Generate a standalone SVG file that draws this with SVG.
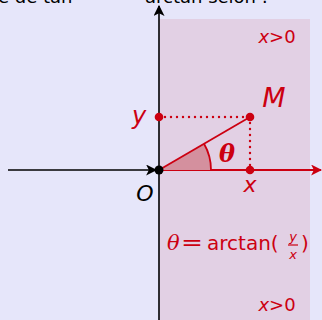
<svg xmlns="http://www.w3.org/2000/svg" width="322" height="320" viewBox="0 0 322 320">
<defs>
<style>
.t{font-family:"DejaVu Sans",sans-serif;fill:#000}
.r{fill:#cc0011}
.i{font-style:italic}
.ax{stroke:#000;stroke-width:1.6;fill:none}
.rl{stroke:#cc0011;stroke-width:1.8;fill:none}
.dot{stroke:#cc0011;stroke-width:2.4;stroke-linecap:round;stroke-dasharray:0 6;fill:none}
</style>
<marker id="ab" viewBox="0 0 10 10" refX="9" refY="5" markerWidth="11" markerHeight="11" markerUnits="userSpaceOnUse" orient="auto"><path d="M0,0 L10,5 L0,10 L2.5,5 Z" fill="#000"/></marker>
<marker id="ar" viewBox="0 0 10 10" refX="9" refY="5" markerWidth="11" markerHeight="11" markerUnits="userSpaceOnUse" orient="auto"><path d="M0,0 L10,5 L0,10 L2.5,5 Z" fill="#cc0011"/></marker>
</defs>
<rect width="322" height="320" fill="#e6e6fa"/>
<rect x="159" y="19" width="151" height="301" fill="#e2d0e4"/>
<text class="t" x="-2" y="3" font-size="18">e de tan</text>
<text class="t" x="145" y="3" font-size="18">arctan selon :</text>
<g id="connectors">
<line class="ax" x1="159" y1="320" x2="159" y2="6" marker-end="url(#ab)"/>
<line class="ax" x1="8" y1="170" x2="156" y2="170" marker-end="url(#ab)"/>
<line class="rl" x1="159" y1="170" x2="321" y2="170" marker-end="url(#ar)"/>
<path d="M159,170 L211,170 A52,52 0 0 0 204,143.8 Z" fill="#d4909e"/>
<path d="M211,170 A52,52 0 0 0 204,143.8" class="rl"/>
<line class="rl" x1="159" y1="170" x2="250" y2="117"/>
<line class="dot" x1="165" y1="117" x2="250" y2="117"/>
<line class="dot" x1="250" y1="123" x2="250" y2="170"/>
</g>
<g id="O"><circle cx="159" cy="170" r="4.5" fill="#000"/><text class="t i" x="145" y="201" font-size="22" text-anchor="middle">O</text></g>
<g id="yp"><circle cx="159" cy="117" r="4.3" fill="#cc0011"/><text class="t r i" x="139" y="124" font-size="24" text-anchor="middle">y</text></g>
<g id="M"><circle cx="250" cy="117" r="4.3" fill="#cc0011"/><text class="t r i" x="274" y="107" font-size="27" text-anchor="middle">M</text></g>
<g id="xp"><circle cx="250" cy="170" r="4.3" fill="#cc0011"/><text class="t r i" x="250" y="192" font-size="22" text-anchor="middle">x</text></g>
<text x="227" y="162" font-family="DejaVu Serif,serif" font-size="24" font-weight="bold" font-style="italic" fill="#cc0011" text-anchor="middle">θ</text>
<text class="t r" x="277" y="43" font-size="18" text-anchor="middle"><tspan class="i">x</tspan>&gt;0</text>
<text class="t r" x="277" y="311" font-size="18" text-anchor="middle"><tspan class="i">x</tspan>&gt;0</text>
<g id="formula">
<text x="167" y="250" font-family="DejaVu Serif,serif" font-style="italic" font-size="21" fill="#cc0011">θ</text>
<text class="t r" x="181" y="250" font-size="21" textLength="22" lengthAdjust="spacingAndGlyphs">=</text>
<text class="t r" x="207" y="250" font-size="20">arctan(</text>
<text class="t r i" x="293" y="241" font-size="13" text-anchor="middle">y</text>
<line x1="288" y1="245" x2="298" y2="245" stroke="#cc0011" stroke-width="1.2"/>
<text class="t r i" x="293" y="259" font-size="13" text-anchor="middle">x</text>
<text class="t r" x="301" y="250" font-size="20">)</text>
</g>
</svg>
